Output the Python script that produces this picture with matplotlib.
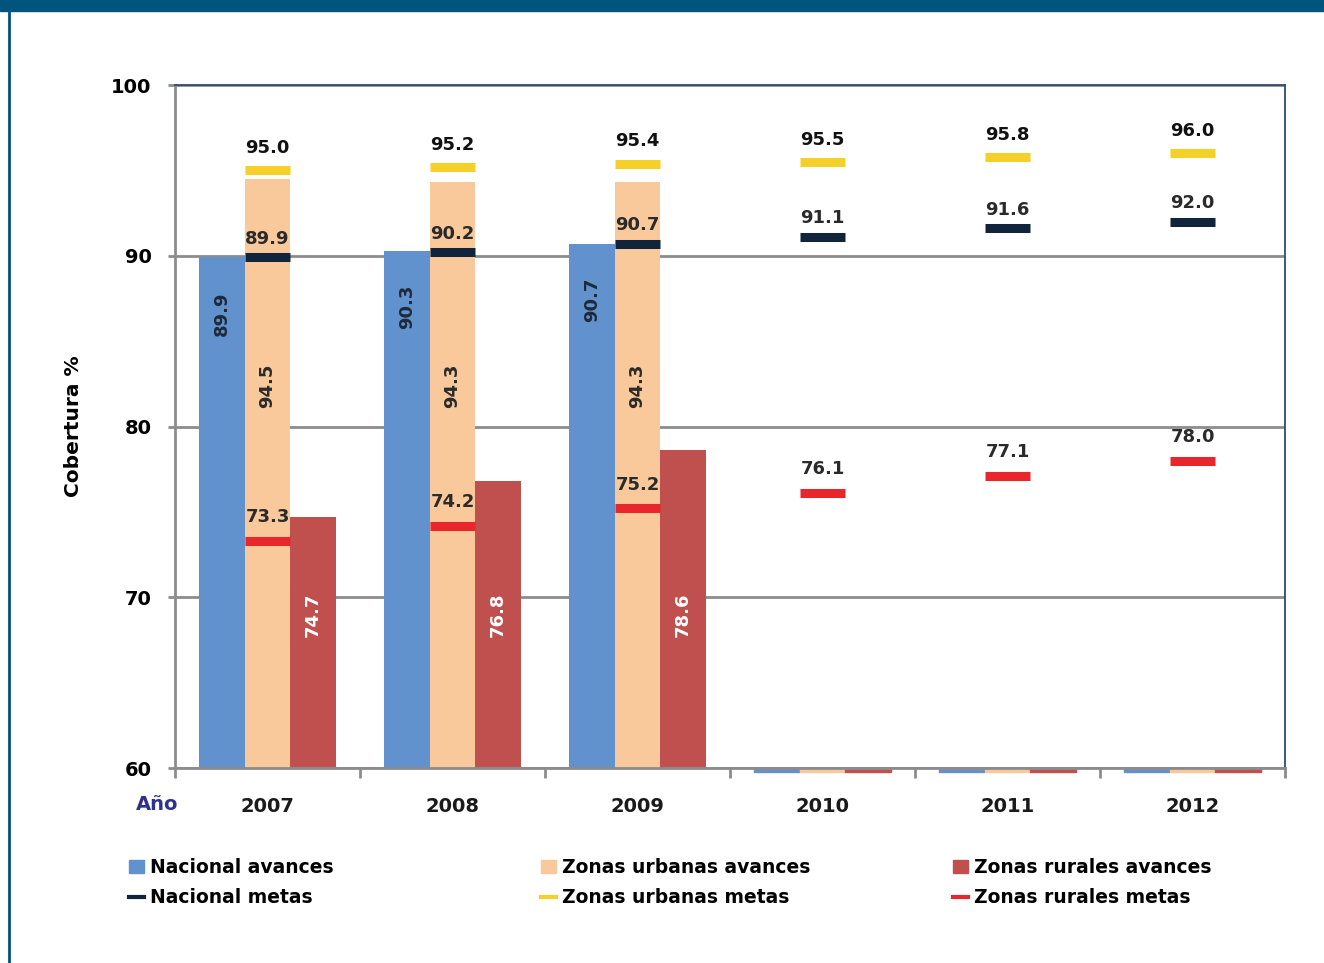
import numpy as np
import matplotlib.pyplot as plt
from matplotlib.patches import Rectangle, Patch
from matplotlib.lines import Line2D

# DATA
years = ["2007", "2008", "2009", "2010", "2011", "2012"]
nacional_avances = [89.9, 90.3, 90.7, np.nan, np.nan, np.nan]
urbanas_avances = [94.5, 94.3, 94.3, np.nan, np.nan, np.nan]
rurales_avances = [74.7, 76.8, 78.6, np.nan, np.nan, np.nan]
nacional_metas = [89.9, 90.2, 90.7, 91.1, 91.6, 92.0]
urbanas_metas = [95.0, 95.2, 95.4, 95.5, 95.8, 96.0]
rurales_metas = [73.3, 74.2, 75.2, 76.1, 77.1, 78.0]

# COLOURS
c_blue = "#6192CD"
c_peach = "#F9C99C"
c_red = "#C0504D"
c_navy = "#10243C"
c_yellow = "#F4D029"
c_rmeta = "#E8262B"
c_frame = "#00557F"

plt.rcParams['font.family'] = ['DejaVu Sans']

fig = plt.figure(figsize=(13.24, 9.63), dpi=100)
ax = fig.add_axes([175/1324, 1 - 768/963, 1110/1324, 683/963])

x = np.arange(len(years))
w = 0.246

ax.bar(x - w, nacional_avances, w, color=c_blue, zorder=2)
ax.bar(x, urbanas_avances, w, color=c_peach, zorder=2)
ax.bar(x + w, rurales_avances, w, color=c_red, zorder=2)

# empty years: Excel draws zero bars as a thin strip under the axis
for i, v in enumerate(nacional_avances):
    if np.isnan(v):
        for off, col in [(-w, c_blue), (0, c_peach), (w, c_red)]:
            ax.add_patch(Rectangle((x[i] + off - w/2, 59.78), w, 0.16,
                                   color=col, clip_on=False, zorder=1))

# goals as short dashes
ax.hlines(nacional_metas, x - w/2, x + w/2, color=c_navy, lw=6.5, zorder=4)
ax.hlines(urbanas_metas, x - w/2, x + w/2, color=c_yellow, lw=6.5, zorder=4)
ax.hlines(rurales_metas, x - w/2, x + w/2, color=c_rmeta, lw=6.5, zorder=4)

# labels
fs = 13
for i in range(len(years)):
    if not np.isnan(nacional_avances[i]):
        ax.text(x[i] - w, nacional_avances[i] - 3.3, f"{nacional_avances[i]:.1f}",
                rotation=90, ha='center', va='center', fontsize=fs,
                fontweight='bold', color="#1E2A3A", zorder=5)
        ax.text(x[i], 82.4, f"{urbanas_avances[i]:.1f}", rotation=90,
                ha='center', va='center', fontsize=fs, fontweight='bold',
                color="#2A2A2A", zorder=5)
        ax.text(x[i] + w, 69.0, f"{rurales_avances[i]:.1f}", rotation=90,
                ha='center', va='center', fontsize=fs, fontweight='bold',
                color="white", zorder=5)
    ax.text(x[i], urbanas_metas[i] + 1.3, f"{urbanas_metas[i]:.1f}",
            ha='center', va='center', fontsize=fs, fontweight='bold',
            color="#111111", zorder=5)
    ax.text(x[i], nacional_metas[i] + 1.1, f"{nacional_metas[i]:.1f}",
            ha='center', va='center', fontsize=fs, fontweight='bold',
            color="#2A2A2A", zorder=5)
    ax.text(x[i], rurales_metas[i] + 1.4, f"{rurales_metas[i]:.1f}",
            ha='center', va='center', fontsize=fs, fontweight='bold',
            color="#2A2A2A", zorder=5)

# axes styling
ax.set_xlim(-0.5, len(years) - 0.5)
ax.set_ylim(60, 100)
ax.set_yticks([60, 70, 80, 90, 100])
ax.yaxis.grid(True, color="#8C8C8C", lw=2, zorder=0)
ax.set_axisbelow(True)
ax.set_xticks(x)
ax.set_xticklabels(years, fontsize=14, fontweight='bold', color="#1A1A1A")
ax.set_xticks(np.arange(-0.5, len(years)), minor=True)
ax.tick_params(axis='x', which='major', length=0, pad=21)
ax.tick_params(axis='x', which='minor', length=7, width=2, color="#8C8C8C")
ax.tick_params(axis='y', length=5, width=2, color="#8C8C8C", pad=12,
               labelsize=14)
for lab in ax.get_yticklabels():
    lab.set_fontweight('bold')
ax.spines['left'].set_color("#8C8C8C")
ax.spines['bottom'].set_color("#8C8C8C")
ax.spines['left'].set_linewidth(2)
ax.spines['bottom'].set_linewidth(2)
ax.spines['top'].set_color("#2F4B70")
ax.spines['right'].set_color("#2F4B70")
ax.spines['top'].set_linewidth(1.3)
ax.spines['right'].set_linewidth(1.3)

ax.set_ylabel("Cobertura %", fontsize=14.5, fontweight='bold', labelpad=20)
ax.text(-0.016, -0.053, "Año", transform=ax.transAxes, ha='center',
        va='center', fontsize=14, fontweight='bold', color="#2E3192")

# legends, three columns
groups = [
    ("Nacional avances", c_blue, "Nacional metas", c_navy, 129),
    ("Zonas urbanas avances", c_peach, "Zonas urbanas metas", c_yellow, 541),
    ("Zonas rurales avances", c_red, "Zonas rurales metas", c_rmeta, 953),
]
for lab_a, col_a, lab_m, col_m, px in groups:
    handles = [Patch(color=col_a, label=lab_a),
               Line2D([], [], color=col_m, lw=3, label=lab_m)]
    fig.legend(handles=handles, loc='upper left',
               bbox_to_anchor=(px/1324, 1 - 858/963), frameon=False,
               prop={'size': 13.5, 'weight': 'bold'}, handlelength=0.8,
               handletextpad=0.3, borderaxespad=0, borderpad=0,
               labelspacing=0.6)

# frame around figure
fig.patches.append(Rectangle((0, 1 - 11/963), 1, 11/963, transform=fig.transFigure,
                             color=c_frame, zorder=10))
fig.lines.append(Line2D([9/1324, 9/1324], [0, 1], transform=fig.transFigure,
                        color=c_frame, lw=2, zorder=10))

fig.savefig("out.png", dpi=100)
